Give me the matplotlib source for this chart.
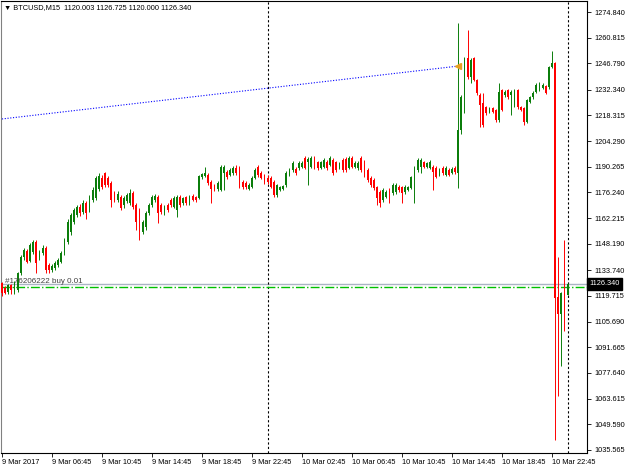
import matplotlib
matplotlib.use("Agg")
import matplotlib.pyplot as plt
import matplotlib.transforms as mtransforms
from matplotlib import font_manager
import numpy as np
import pandas as pd

symbol = "BTCUSD,M15"
start_time = "2017-03-09 02:45"

# OHLC of the M15 bars
opens = [
    1126.8, 1124.0, 1121.8, 1125.5, 1122.0, 1123.0, 1132.0, 1141.0, 1144.5, 1139.0,
    1143.7, 1149.2, 1141.0, 1143.2, 1145.9, 1136.6, 1134.0, 1135.0, 1136.6, 1138.3,
    1143.2, 1149.2, 1154.7, 1160.0, 1164.0, 1168.3, 1165.5, 1170.5, 1166.7, 1172.1,
    1173.2, 1178.0, 1184.2, 1186.9, 1184.2, 1181.4, 1176.0, 1172.0, 1173.8, 1169.4,
    1171.5, 1170.5, 1176.0, 1169.4, 1166.7, 1154.7, 1157.4, 1165.0, 1169.4, 1172.1,
    1173.8, 1169.4, 1165.0, 1169.4, 1172.1, 1168.3, 1166.7, 1173.8, 1170.5, 1173.8,
    1170.5, 1174.3, 1173.8, 1173.2, 1184.7, 1185.2, 1185.8, 1182.0, 1180.3, 1178.2,
    1177.6, 1186.9, 1187.4, 1186.0, 1186.9, 1189.6, 1189.6, 1182.0, 1181.4, 1178.2,
    1179.2, 1184.2, 1190.2, 1186.9, 1185.8, 1184.2, 1184.2, 1182.0, 1174.9, 1177.6,
    1178.2, 1180.3, 1185.8, 1188.5, 1189.0, 1189.6, 1190.2, 1195.0, 1193.0, 1190.2,
    1195.0, 1192.8, 1189.6, 1190.2, 1192.8, 1191.3, 1194.0, 1192.8, 1189.6, 1194.0,
    1194.5, 1189.6, 1195.0, 1190.2, 1189.6, 1195.0, 1191.3, 1188.5, 1184.2, 1183.1,
    1179.2, 1176.5, 1172.1, 1173.8, 1177.6, 1176.0, 1176.5, 1179.2, 1179.2, 1176.5,
    1177.6, 1178.7, 1183.1, 1188.5, 1190.2, 1192.8, 1190.2, 1189.6, 1190.2, 1189.6,
    1185.8, 1189.6, 1185.8, 1188.5, 1186.9, 1189.6, 1186.9, 1210.4, 1229.5, 1249.7,
    1239.3, 1249.7, 1237.7, 1229.5, 1225.1, 1222.9, 1220.2, 1222.4, 1221.3, 1215.8,
    1232.2, 1229.5, 1232.2, 1229.5, 1224.0, 1232.2, 1222.9, 1222.4, 1214.7, 1225.7,
    1228.4, 1231.1, 1232.2, 1233.3, 1234.4, 1233.9, 1244.8, 1247.0, 1119.1, 1109.9,
    1121.3, 1120.003,
]
highs = [
    1127.5, 1125.0, 1126.5, 1126.5, 1127.8, 1133.0, 1142.0, 1146.0, 1145.5, 1148.5,
    1150.0, 1150.0, 1145.0, 1147.5, 1147.0, 1137.5, 1137.0, 1139.0, 1140.5, 1144.5,
    1151.5, 1161.5, 1165.0, 1168.0, 1169.5, 1170.0, 1172.0, 1171.5, 1175.0, 1179.0,
    1185.5, 1187.0, 1186.0, 1187.5, 1185.0, 1182.5, 1177.0, 1177.0, 1175.0, 1174.5,
    1176.0, 1178.2, 1177.0, 1170.5, 1168.0, 1161.0, 1166.0, 1170.5, 1175.0, 1175.5,
    1175.0, 1170.5, 1169.5, 1170.5, 1173.0, 1174.5, 1175.0, 1175.0, 1174.0, 1174.5,
    1175.0, 1175.5, 1174.5, 1186.0, 1187.0, 1190.2, 1187.0, 1183.0, 1181.0, 1182.5,
    1191.0, 1191.0, 1188.5, 1189.5, 1190.5, 1191.3, 1190.5, 1183.0, 1182.5, 1181.5,
    1185.0, 1189.5, 1191.0, 1188.0, 1186.5, 1185.8, 1185.0, 1183.0, 1181.0, 1180.0,
    1180.5, 1188.0, 1189.5, 1193.5, 1190.0, 1193.5, 1193.5, 1196.0, 1195.5, 1196.0,
    1196.0, 1193.5, 1193.5, 1195.0, 1194.0, 1196.0, 1195.0, 1193.5, 1193.0, 1195.0,
    1195.5, 1196.0, 1196.0, 1193.5, 1193.5, 1196.0, 1194.0, 1189.5, 1185.0, 1184.0,
    1180.0, 1177.5, 1178.5, 1177.5, 1178.5, 1181.5, 1181.5, 1180.5, 1180.0, 1180.5,
    1180.0, 1185.5, 1190.5, 1195.0, 1195.0, 1193.5, 1193.0, 1194.0, 1191.0, 1190.5,
    1189.5, 1190.5, 1190.5, 1189.5, 1190.0, 1190.5, 1268.8, 1229.5, 1250.5, 1265.0,
    1249.5, 1250.5, 1238.5, 1230.5, 1230.5, 1223.5, 1223.0, 1223.0, 1222.0, 1236.0,
    1233.0, 1232.0, 1233.0, 1232.0, 1233.0, 1233.0, 1223.5, 1223.0, 1227.5, 1229.0,
    1231.5, 1236.0, 1236.5, 1236.0, 1235.0, 1245.5, 1253.5, 1247.5, 1141.0, 1122.0,
    1150.3, 1126.725,
]
lows = [
    1119.5, 1120.5, 1120.8, 1121.0, 1121.0, 1122.0, 1131.0, 1139.5, 1137.5, 1138.0,
    1142.5, 1132.2, 1139.5, 1142.0, 1132.5, 1132.2, 1133.0, 1134.0, 1135.5, 1137.5,
    1142.0, 1148.0, 1153.0, 1159.0, 1163.0, 1163.5, 1164.5, 1161.5, 1165.5, 1171.0,
    1172.0, 1177.0, 1178.0, 1179.0, 1179.0, 1168.3, 1171.0, 1171.0, 1166.5, 1168.0,
    1170.5, 1169.5, 1167.0, 1155.7, 1150.3, 1153.5, 1156.0, 1164.0, 1168.5, 1171.0,
    1159.6, 1164.5, 1164.0, 1165.5, 1168.5, 1167.5, 1162.9, 1168.5, 1169.5, 1169.5,
    1169.5, 1171.5, 1171.0, 1172.5, 1183.8, 1184.5, 1180.5, 1170.5, 1177.2, 1177.3,
    1177.0, 1177.6, 1183.8, 1185.0, 1186.0, 1186.0, 1178.5, 1178.2, 1178.2, 1177.5,
    1178.5, 1183.5, 1184.5, 1183.5, 1181.0, 1181.0, 1178.5, 1174.0, 1174.0, 1177.0,
    1177.5, 1179.5, 1185.0, 1187.5, 1186.0, 1188.5, 1189.5, 1189.0, 1180.3, 1189.5,
    1189.0, 1188.5, 1189.0, 1189.5, 1188.5, 1190.5, 1186.0, 1187.5, 1189.0, 1187.5,
    1187.5, 1189.0, 1189.5, 1189.5, 1188.5, 1187.5, 1184.5, 1182.0, 1179.5, 1177.5,
    1169.4, 1168.3, 1171.0, 1173.0, 1170.5, 1175.0, 1175.5, 1176.5, 1170.5, 1175.5,
    1177.0, 1178.0, 1170.5, 1187.5, 1186.9, 1189.5, 1189.5, 1189.0, 1177.6, 1184.0,
    1185.0, 1186.0, 1185.0, 1185.0, 1186.3, 1186.5, 1178.7, 1208.0, 1219.7, 1238.5,
    1236.0, 1237.0, 1229.5, 1212.0, 1212.0, 1218.5, 1219.5, 1219.5, 1215.0, 1215.0,
    1220.5, 1228.5, 1227.5, 1218.5, 1223.0, 1222.0, 1220.5, 1213.1, 1214.0, 1225.0,
    1227.5, 1230.5, 1231.5, 1232.5, 1230.0, 1233.0, 1244.0, 1041.0, 1065.1, 1081.5,
    1100.6, 1120.0,
]
closes = [
    1121.3, 1121.5, 1125.7, 1123.0, 1126.8, 1132.2, 1141.0, 1144.8, 1138.5, 1147.5,
    1149.2, 1137.7, 1143.7, 1145.9, 1133.9, 1133.9, 1136.1, 1137.7, 1139.4, 1143.2,
    1150.3, 1160.1, 1163.9, 1166.7, 1168.3, 1165.0, 1170.5, 1165.0, 1173.8, 1177.6,
    1184.2, 1185.5, 1179.2, 1180.3, 1180.3, 1172.1, 1172.1, 1175.5, 1167.8, 1173.2,
    1174.9, 1176.0, 1168.3, 1160.1, 1154.7, 1160.1, 1165.0, 1169.4, 1173.8, 1174.3,
    1165.0, 1165.6, 1168.3, 1166.7, 1169.4, 1173.2, 1173.8, 1169.4, 1173.2, 1170.5,
    1173.8, 1172.1, 1172.1, 1185.2, 1186.3, 1186.9, 1181.4, 1178.2, 1178.2, 1181.4,
    1190.2, 1190.2, 1184.7, 1188.5, 1189.6, 1186.9, 1179.2, 1179.2, 1179.2, 1180.3,
    1184.2, 1188.5, 1186.0, 1184.2, 1182.0, 1182.0, 1179.2, 1174.9, 1180.3, 1179.2,
    1179.7, 1186.9, 1188.5, 1192.3, 1186.9, 1192.3, 1192.3, 1189.6, 1194.5, 1195.0,
    1189.6, 1189.6, 1192.8, 1194.0, 1189.6, 1195.0, 1186.9, 1188.5, 1192.3, 1188.5,
    1188.5, 1195.0, 1190.2, 1192.3, 1192.3, 1188.5, 1187.4, 1183.1, 1180.3, 1178.7,
    1173.2, 1170.5, 1177.6, 1176.5, 1176.0, 1180.3, 1180.3, 1177.6, 1176.0, 1179.2,
    1179.2, 1184.7, 1189.6, 1194.0, 1194.0, 1190.2, 1192.3, 1192.8, 1187.4, 1184.7,
    1188.5, 1186.9, 1189.6, 1185.8, 1189.0, 1187.4, 1210.4, 1228.4, 1249.7, 1239.3,
    1248.6, 1237.7, 1230.6, 1224.0, 1213.1, 1219.7, 1222.4, 1220.2, 1215.8, 1231.1,
    1221.3, 1231.1, 1228.4, 1231.1, 1232.2, 1222.9, 1221.3, 1214.7, 1226.8, 1228.4,
    1230.6, 1235.0, 1235.0, 1235.0, 1230.6, 1244.8, 1247.0, 1118.6, 1109.9, 1121.3,
    1119.7, 1126.34,
]

price_ticks = [1274.840, 1260.815, 1246.790, 1232.340, 1218.315, 1204.290, 1190.265,
               1176.240, 1162.215, 1148.190, 1133.740, 1119.715, 1105.690, 1091.665,
               1077.640, 1063.615, 1049.590, 1035.565]
time_labels = ["9 Mar 2017", "9 Mar 06:45", "9 Mar 10:45", "9 Mar 14:45", "9 Mar 18:45",
               "9 Mar 22:45", "10 Mar 02:45", "10 Mar 06:45", "10 Mar 10:45",
               "10 Mar 14:45", "10 Mar 18:45", "10 Mar 22:45"]

# trend line drawn on the chart (bar index, price) and the open buy order
trend_bars = [0, 146]
trend_prices = [1216.4, 1245.3]
order_price = 1124.6
order_text = "#176206222 buy 0.01"

# narrow font like the terminal's, if there is one
names = {f.name for f in font_manager.fontManager.ttflist}
narrow = "Liberation Sans Narrow" if "Liberation Sans Narrow" in names else "Liberation Sans"
label_size = 6 if narrow == "Liberation Sans Narrow" else 5.3
plt.rcParams["font.family"] = [narrow, "DejaVu Sans"]

bars = pd.DataFrame({"open": opens, "high": highs, "low": lows, "close": closes})
bars["time"] = pd.date_range(start_time, periods=len(bars), freq="15min")
bars["x"] = np.arange(len(bars))
up = bars[bars["close"] >= bars["open"]]
down = bars[bars["close"] < bars["open"]]

fig = plt.figure(figsize=(6.25, 4.69), dpi=100)
ax = fig.add_axes([1.5 / 625, 16 / 469, 585.5 / 625, 452 / 469])

green = "#0b7d0b"
red = "#ff0000"
for part, color in [(up, green), (down, red)]:
    ax.vlines(part["x"], part["low"], part["high"], color=color, linewidth=0.7, zorder=3)
    body = (part["close"] - part["open"]).abs().clip(lower=0.4)
    ax.bar(part["x"], body, bottom=part[["open", "close"]].min(axis=1), width=0.62,
           color=color, linewidth=0, zorder=3)

# day separators
midnight = bars[(bars["time"].dt.hour == 0) & (bars["time"].dt.minute == 0)]
for x in midnight["x"]:
    ax.axvline(x, color="black", linestyle=(0, (2, 2)), linewidth=0.8, zorder=2)

# bid line and order line
last_close = closes[-1]
ax.axhline(last_close, color="#aab4c4", linewidth=1.0, zorder=1)
ax.axhline(order_price, color="#00c000", linestyle="-.", linewidth=1.0, zorder=2)
ax.text(1, order_price + 1.3, order_text, fontsize=label_size * 1.08, color="#404040",
        va="bottom", zorder=4)

ax.plot(trend_bars, trend_prices, color="blue", linestyle=(0, (1, 1.5)), linewidth=0.8, zorder=2)
ax.plot(trend_bars[1], trend_prices[1], marker="<", color="#e8a020", markersize=4, zorder=4)

ax.set_xlim(-0.15, 187.2)
ax.set_ylim(1033.9, 1280.85)

ax.yaxis.tick_right()
ax.set_yticks(price_ticks)
ax.set_yticklabels([f"{p:.3f}" for p in price_ticks])
ax.set_xticks(np.arange(len(time_labels)) * 16)
ax.set_xticklabels(time_labels)
for lbl in ax.get_xticklabels():
    lbl.set_horizontalalignment("left")
ax.tick_params(axis="y", direction="out", length=3, width=0.6, pad=2, labelsize=label_size)
ax.tick_params(axis="x", direction="out", length=3, width=0.6, pad=1.5, labelsize=label_size)
for side in ax.spines.values():
    side.set_linewidth(0.8)
ax.spines["left"].set_color("#808080")

trans = mtransforms.blended_transform_factory(ax.transAxes, ax.transData)
ax.text(1.004, last_close, f"{last_close:.3f}", transform=trans, fontsize=label_size,
        color="white", va="center", ha="left",
        bbox=dict(boxstyle="square,pad=0.3", fc="black", ec="black"), zorder=5)

row = bars.iloc[-1]
ax.text(0.004, 0.993, f"\u25bc {symbol}  {row['open']:.3f} {row['high']:.3f} "
        f"{row['low']:.3f} {row['close']:.3f}",
        transform=ax.transAxes, fontsize=label_size, va="top", ha="left", zorder=5)

fig.savefig("out.png", dpi=100)
